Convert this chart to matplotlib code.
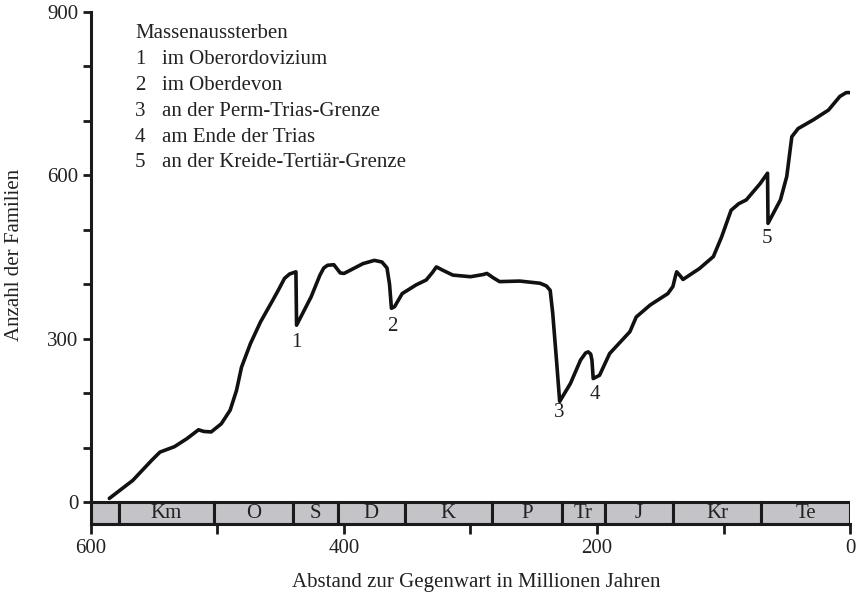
import matplotlib
matplotlib.use("Agg")
import matplotlib.pyplot as plt
from matplotlib.ticker import FixedLocator

plt.rcParams['font.family'] = ['Liberation Serif', 'DejaVu Serif']

# Familien-Kurve (Millionen Jahre vor heute, Anzahl der Familien)
ma = [585.5, 567, 552, 545.5, 534, 524, 515, 511, 505, 497, 490, 485, 481, 474,
      466, 457, 452, 447, 443, 438, 437.5, 426, 419, 416, 413, 408, 403, 400, 395,
      385, 376, 370, 366, 364, 362.5, 360, 354, 343, 335, 330, 327, 322, 314, 300,
      290, 287, 282, 277, 261, 245, 240, 237, 235, 232, 229.5, 221, 213, 209, 207,
      205, 204, 203, 198, 190, 174, 169, 158, 144, 140, 138, 137, 134, 132, 119,
      108, 101.5, 94, 88, 82, 71, 65.2, 64.8, 55, 50, 46, 41, 29, 17, 8, 3, 0]
families = [7, 40, 77, 92, 102, 117, 133, 130, 129, 144, 169, 205, 248, 291,
            331, 368, 389, 411, 419, 423, 325, 377, 417, 430, 435, 436, 421, 420,
            426, 438, 444, 441, 430, 400, 356, 359, 383, 399, 408, 422, 432, 426,
            417, 414, 418, 420, 412, 405, 406, 402, 397, 389, 347, 260, 185, 218,
            261, 274, 276, 272, 261, 227, 233, 273, 313, 340, 362, 383, 396, 415,
            423, 415, 409, 429, 451, 487, 536, 548, 555, 585, 604, 512, 555, 598,
            671, 686, 702, 720, 745, 752, 752]

# Erdzeitalter
period_bounds = [600, 578, 503, 440, 405, 352, 283, 228, 194, 140, 70, 0]
period_names = ["", "Km", "O", "S", "D", "K", "P", "Tr", "J", "Kr", "Te"]

# Massenaussterben: Markierungen
ext_labels = ["1", "2", "3", "4", "5"]
ext_x = [438, 362, 230, 202, 66]
ext_y = [294, 323, 165, 198, 485]

legend_title = "Massenaussterben"
legend_items = ["im Oberordovizium", "im Oberdevon", "an der Perm-Trias-Grenze",
                "am Ende der Trias", "an der Kreide-Tertiär-Grenze"]

fig = plt.figure(figsize=(8.6, 5.97), dpi=100)
ax = fig.add_axes([91 / 860, 1 - 524 / 597, 759 / 860, 512 / 597])

bar_h = 40
fs = 15

# period bar
for i in range(len(period_names)):
    start, end = period_bounds[i], period_bounds[i + 1]
    ax.bar((start + end) / 2, -bar_h, width=start - end, bottom=0,
           color="#c4c4c8", edgecolor="#1a1a1a", linewidth=2.2, zorder=2)
    if period_names[i]:
        ax.text((start + end) / 2, -bar_h / 2, period_names[i], ha="center",
                va="center", fontsize=fs, color="#222222", zorder=3)

ax.plot(ma, families, color="#111111", linewidth=2.6,
        solid_joinstyle="round", solid_capstyle="round", zorder=4)

for lab, x, y in zip(ext_labels, ext_x, ext_y):
    ax.text(x, y, lab, ha="center", va="center", fontsize=fs, color="#222222")

# legend block
line_px = [38, 64, 90, 116, 141.7, 167.3]
ax.text((135 - 91) / 759, (524 - line_px[0]) / 512, legend_title,
        transform=ax.transAxes, fontsize=fs, va="baseline", color="#222222")
for k, item in enumerate(legend_items):
    yy = (524 - line_px[k + 1]) / 512
    ax.text((135 - 91) / 759, yy, ext_labels[k], transform=ax.transAxes,
            fontsize=fs, va="baseline", color="#222222")
    ax.text((162 - 91) / 759, yy, item, transform=ax.transAxes,
            fontsize=fs, va="baseline", color="#222222")

ax.set_xlim(600, 0)
ax.set_ylim(-bar_h, 900)

ax.xaxis.set_major_locator(FixedLocator([600, 400, 200, 0]))
ax.xaxis.set_minor_locator(FixedLocator([500, 300, 100]))
ax.yaxis.set_major_locator(FixedLocator([0, 300, 600, 900]))
ax.yaxis.set_minor_locator(FixedLocator([100, 200, 400, 500, 700, 800]))

ax.tick_params(axis="both", which="both", direction="out", width=2,
               color="#1a1a1a", labelsize=fs, labelcolor="#222222")
ax.tick_params(axis="x", which="both", length=7, pad=4)
ax.tick_params(axis="y", which="both", length=6, pad=3)

for s in ["top", "right"]:
    ax.spines[s].set_visible(False)
for s in ["left", "bottom"]:
    ax.spines[s].set_linewidth(2.2)
    ax.spines[s].set_color("#1a1a1a")

ax.set_xlabel("Abstand zur Gegenwart in Millionen Jahren", fontsize=fs,
              color="#222222")
ax.set_ylabel("Anzahl der Familien", fontsize=fs, color="#222222")
ax.xaxis.set_label_coords(0.507, -0.095)
ax.yaxis.set_label_coords(-0.088, 0.525)

fig.savefig("out.png", dpi=100)
